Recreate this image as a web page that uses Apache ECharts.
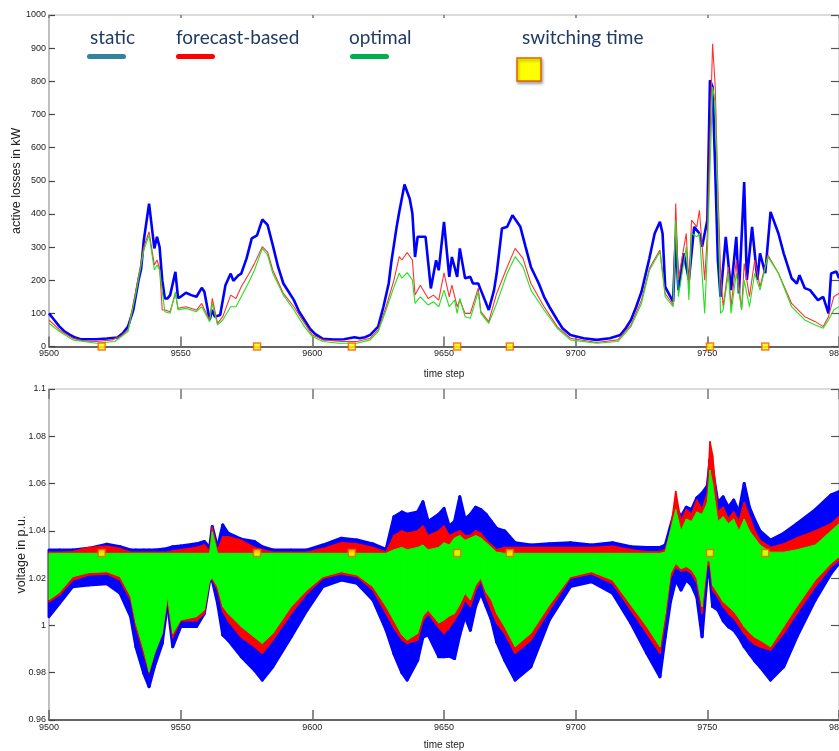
<!DOCTYPE html>
<html>
<head>
<meta charset="utf-8">
<script src="https://cdn.jsdelivr.net/npm/echarts@6/dist/echarts.min.js"></script>
<style>html,body{margin:0;padding:0;background:#fff;}#c{width:839px;height:751px;}</style>
</head>
<body>
<div id="c"></div>
<script>
// ---------- top panel: active losses (kW) ----------
const staticSteps = [9500,9502,9504,9506,9508,9510,9512,9518,9522,9526,9528,9530,9532,9534,9535,9536,9538,9540,9541,9542,9543,9544,9545,9546,9548,9549,9550,9552,9554,9556,9558,9559,9561,9562,9563,9565,9567,9569,9570,9572,9573,9575,9577,9579,9581,9583,9585,9587,9589,9591,9593,9595,9597,9599,9601,9604,9608,9612,9616,9618,9620,9622,9625,9627,9629,9630,9632,9633,9635,9637,9638,9639,9640,9643,9645,9647,9648,9650,9652,9653,9655,9656,9658,9660,9661,9663,9664,9667,9669,9670,9672,9674,9676,9679,9681,9683,9686,9688,9690,9693,9695,9698,9703,9708,9713,9717,9719,9721,9723,9725,9728,9730,9732,9733,9734,9735,9737,9738,9739,9741,9743,9745,9747,9748,9749,9750,9751,9752,9753,9754,9755,9757,9759,9761,9762,9764,9765,9767,9769,9770,9772,9774,9777,9779,9782,9784,9785,9787,9789,9792,9794,9796,9797,9799,9800];
const staticLoss = [100,80,60,45,35,27,22,22,24,27,40,60,110,200,235,320,431,296,331,300,200,145,145,155,225,146,150,162,155,150,177,165,80,110,90,95,185,220,198,215,220,265,326,335,383,367,305,240,190,165,140,105,80,55,38,23,21,22,28,25,28,35,60,120,190,255,360,406,489,445,401,270,331,331,175,260,230,376,210,270,210,296,206,210,190,190,170,110,170,220,356,361,396,361,300,240,190,150,120,80,55,35,25,20,25,35,55,80,120,165,266,341,376,341,180,165,135,331,170,281,201,361,341,301,341,381,803,783,532,261,150,331,170,331,160,496,201,361,201,281,221,406,341,281,206,190,215,176,170,140,150,100,220,226,206];

const forecastSteps = [9500,9504,9509,9513,9518,9524,9527,9530,9533,9536,9538,9540,9541,9542,9543,9544,9546,9548,9549,9552,9556,9558,9560,9561,9562,9564,9566,9569,9571,9573,9576,9578,9581,9583,9585,9589,9593,9597,9600,9604,9611,9617,9622,9625,9628,9631,9633,9634,9636,9638,9639,9641,9644,9646,9648,9650,9652,9653,9655,9656,9658,9660,9663,9664,9667,9670,9674,9677,9680,9683,9688,9693,9698,9708,9716,9721,9725,9728,9732,9734,9737,9738,9739,9742,9743,9744,9746,9747,9749,9750,9752,9753,9754,9755,9756,9758,9759,9761,9763,9764,9766,9768,9770,9773,9777,9782,9787,9791,9794,9796,9798,9800];
const forecastLoss = [80,50,25,17,15,20,30,50,170,300,346,246,261,236,110,110,105,160,115,120,110,130,95,80,145,70,90,155,145,180,220,250,301,285,230,160,120,70,35,20,15,15,25,50,120,200,271,261,283,261,155,185,145,155,140,222,150,185,120,140,100,100,176,105,75,160,240,296,266,190,120,60,25,12,20,65,140,236,291,160,125,431,201,341,180,381,361,411,200,341,913,783,482,230,120,240,120,261,110,250,150,261,180,276,221,130,90,75,60,90,150,160];

const optimalSteps = [9500,9504,9509,9518,9525,9530,9533,9536,9538,9540,9541,9542,9544,9546,9548,9549,9552,9556,9558,9561,9562,9564,9566,9569,9571,9573,9576,9578,9581,9583,9585,9589,9593,9597,9600,9604,9610,9617,9622,9625,9628,9631,9633,9634,9636,9638,9639,9641,9644,9646,9648,9650,9652,9654,9655,9656,9658,9660,9663,9664,9667,9670,9674,9677,9680,9683,9688,9693,9698,9708,9716,9721,9725,9728,9732,9734,9737,9738,9739,9742,9743,9744,9746,9747,9749,9750,9752,9753,9754,9755,9756,9758,9759,9761,9763,9764,9766,9768,9770,9773,9777,9782,9787,9791,9794,9796,9798,9800];
const optimalLoss = [70,45,20,10,15,45,160,290,336,231,246,231,105,100,165,110,115,105,120,75,130,65,80,120,120,150,196,230,296,276,221,155,110,60,30,15,10,10,20,45,110,180,221,206,223,201,130,150,125,135,120,170,120,140,100,145,90,85,165,100,70,130,221,271,240,170,110,55,20,10,15,60,130,230,286,150,120,381,150,301,140,341,331,341,100,281,783,733,432,100,110,221,100,221,110,200,120,221,170,271,221,120,80,65,55,80,110,120];

// switching times (time steps)
const switchSteps = [9520,9579,9615,9655,9675,9751,9772];
const switchVoltage = 1.0306;

// ---------- bottom panel: voltage band envelopes (p.u.) ----------
const voltSteps = [9500,9504,9509,9515,9522,9527,9531,9533,9536,9538,9540,9543,9545,9547,9550,9556,9559,9561,9562,9564,9566,9568,9573,9578,9581,9585,9592,9598,9604,9611,9617,9623,9628,9631,9634,9636,9640,9642,9644,9648,9650,9652,9654,9656,9658,9660,9662,9664,9666,9668,9670,9673,9677,9683,9690,9698,9706,9714,9721,9727,9732,9734,9736,9738,9740,9742,9744,9746,9748,9750,9751,9752,9754,9756,9758,9760,9762,9764,9766,9768,9770,9774,9779,9784,9791,9797,9800];
const staticVMax = [1.0319,1.0319,1.0319,1.0326,1.0343,1.0333,1.0319,1.0319,1.0319,1.0319,1.0319,1.0322,1.0326,1.0333,1.0336,1.0345,1.0355,1.0330,1.0418,1.0330,1.0425,1.0390,1.0365,1.0355,1.0333,1.0319,1.0319,1.0319,1.0340,1.0369,1.0361,1.0345,1.0322,1.0460,1.0480,1.0470,1.0480,1.0523,1.0440,1.0470,1.0495,1.0420,1.0440,1.0544,1.0450,1.0470,1.0500,1.0490,1.0470,1.0440,1.0410,1.0400,1.0350,1.0340,1.0345,1.0350,1.0340,1.0350,1.0333,1.0330,1.0330,1.0340,1.0420,1.0500,1.0460,1.0500,1.0490,1.0540,1.0560,1.0590,1.0700,1.0660,1.0520,1.0544,1.0500,1.0530,1.0480,1.0600,1.0500,1.0446,1.0400,1.0361,1.0390,1.0430,1.0490,1.0552,1.0566];
const staticVMin = [1.0037,1.0094,1.0164,1.0171,1.0176,1.0136,1.0037,0.9910,0.9797,0.9741,0.9825,0.9924,1.0094,0.9910,0.9995,0.9995,1.0051,1.0190,1.0190,1.0094,0.9960,0.9938,0.9868,0.9811,0.9769,0.9825,0.9952,1.0065,1.0164,1.0192,1.0178,1.0108,0.9981,0.9880,0.9800,0.9769,0.9853,0.9950,0.9960,0.9868,0.9868,0.9870,0.9860,0.9960,1.0037,0.9980,1.0080,1.0136,1.0080,1.0023,0.9930,0.9854,0.9769,0.9825,1.0023,1.0164,1.0185,1.0136,1.0009,0.9882,0.9783,0.9950,1.0100,1.0192,1.0150,1.0192,1.0170,1.0120,0.9952,1.0220,1.0200,1.0080,1.0065,1.0020,0.9994,0.9980,0.9950,0.9910,0.9880,0.9850,0.9825,0.9769,0.9825,0.9952,1.0108,1.0220,1.0263];
const forecastVMax = [1.0310,1.0310,1.0312,1.0330,1.0335,1.0325,1.0310,1.0310,1.0310,1.0310,1.0310,1.0310,1.0310,1.0315,1.0320,1.0330,1.0340,1.0315,1.0415,1.0315,1.0375,1.0375,1.0360,1.0330,1.0320,1.0310,1.0310,1.0310,1.0325,1.0350,1.0345,1.0330,1.0310,1.0380,1.0400,1.0390,1.0400,1.0420,1.0380,1.0400,1.0420,1.0380,1.0390,1.0400,1.0380,1.0380,1.0400,1.0390,1.0360,1.0340,1.0320,1.0330,1.0330,1.0330,1.0330,1.0330,1.0330,1.0335,1.0320,1.0312,1.0312,1.0320,1.0400,1.0566,1.0440,1.0490,1.0470,1.0530,1.0490,1.0560,1.0777,1.0720,1.0480,1.0500,1.0450,1.0480,1.0440,1.0520,1.0460,1.0400,1.0360,1.0330,1.0345,1.0370,1.0400,1.0430,1.0460];
const forecastVMin = [1.0100,1.0130,1.0192,1.0213,1.0218,1.0192,1.0108,0.9995,0.9880,0.9800,0.9880,0.9966,1.0108,0.9950,1.0020,1.0020,1.0051,1.0190,1.0195,1.0150,1.0060,1.0020,0.9950,0.9910,0.9882,0.9938,1.0051,1.0136,1.0199,1.0218,1.0206,1.0150,1.0051,0.9990,0.9940,0.9924,0.9938,1.0020,1.0050,0.9990,0.9967,0.9990,1.0023,1.0060,1.0108,1.0080,1.0150,1.0190,1.0120,1.0065,1.0010,0.9967,0.9882,0.9938,1.0065,1.0200,1.0218,1.0178,1.0065,0.9967,0.9882,1.0023,1.0200,1.0249,1.0230,1.0235,1.0220,1.0180,1.0051,1.0260,1.0250,1.0150,1.0120,1.0080,1.0051,1.0030,1.0000,0.9967,0.9940,0.9920,0.9910,0.9896,0.9967,1.0051,1.0164,1.0249,1.0277];
const optimalVMax = [1.0305,1.0305,1.0305,1.0305,1.0305,1.0305,1.0305,1.0305,1.0305,1.0305,1.0305,1.0305,1.0305,1.0305,1.0305,1.0305,1.0305,1.0305,1.0396,1.0305,1.0305,1.0305,1.0305,1.0305,1.0305,1.0305,1.0305,1.0305,1.0305,1.0305,1.0305,1.0305,1.0305,1.0320,1.0330,1.0320,1.0330,1.0340,1.0320,1.0330,1.0350,1.0340,1.0370,1.0380,1.0360,1.0370,1.0380,1.0370,1.0350,1.0330,1.0310,1.0305,1.0305,1.0305,1.0305,1.0305,1.0305,1.0305,1.0305,1.0305,1.0305,1.0310,1.0400,1.0490,1.0400,1.0450,1.0440,1.0480,1.0470,1.0520,1.0657,1.0600,1.0440,1.0460,1.0430,1.0450,1.0400,1.0450,1.0400,1.0370,1.0340,1.0310,1.0310,1.0320,1.0340,1.0400,1.0430];
const optimalVMin = [1.0108,1.0140,1.0206,1.0223,1.0227,1.0206,1.0122,1.0010,0.9896,0.9805,0.9880,0.9966,1.0122,0.9966,1.0023,1.0037,1.0065,1.0190,1.0200,1.0164,1.0080,1.0050,0.9995,0.9950,0.9924,0.9966,1.0080,1.0150,1.0206,1.0227,1.0213,1.0164,1.0080,1.0020,0.9960,0.9938,0.9966,1.0040,1.0065,1.0010,1.0023,1.0040,1.0050,1.0090,1.0136,1.0108,1.0170,1.0200,1.0140,1.0108,1.0050,0.9995,0.9910,0.9967,1.0086,1.0206,1.0227,1.0192,1.0086,0.9995,0.9910,1.0050,1.0220,1.0263,1.0240,1.0249,1.0235,1.0200,1.0080,1.0277,1.0270,1.0170,1.0136,1.0100,1.0080,1.0060,1.0030,0.9995,0.9970,0.9950,0.9938,0.9910,0.9995,1.0080,1.0192,1.0263,1.0290];

// axis ranges
const stepMin = 9500, stepMax = 9800, stepInterval = 50;
const lossMin = 0, lossMax = 1000, lossInterval = 100;
const voltMin = 0.96, voltMax = 1.1, voltInterval = 0.02;

const legendNames = ['static', 'forecast-based', 'optimal'];
const legendSwatch = ['#31849B', '#FF0000', '#00B050'];
const legendTextX = [90, 176, 349];
const legendLineX = [87, 176, 350];

const chart = echarts.init(document.getElementById('c'), null, {renderer: 'canvas'});
const lblFont = {fontFamily: 'Liberation Sans', fontSize: 9, color: '#222'};
const plainNum = v => String(+(+v).toFixed(2));

function xMain(gridIndex, gap) {
  return {type: 'value', gridIndex, min: stepMin, max: stepMax, interval: stepInterval,
    name: 'time step', nameLocation: 'middle', nameGap: gap,
    nameTextStyle: {fontFamily: 'Liberation Sans', fontSize: 10, color: '#222'},
    axisLine: {onZero: false, lineStyle: {color: '#333', width: 1.5}},
    axisTick: {inside: true, length: 10, lineStyle: {color: '#666', width: 1.5}},
    axisLabel: Object.assign({margin: 3, formatter: plainNum}, lblFont),
    splitLine: {show: false}};
}
function xFrame(gridIndex, tickLen) {
  return {type: 'value', gridIndex, position: 'top', min: stepMin, max: stepMax, interval: stepInterval,
    axisLine: {onZero: false, lineStyle: {color: '#cfcfcf', width: 1.5}},
    axisTick: {inside: true, length: tickLen, lineStyle: {color: '#777', width: 1.5}},
    axisLabel: {show: false}, splitLine: {show: false}};
}
function yMain(gridIndex, min, max, interval, name, gap) {
  return {type: 'value', gridIndex, min, max, interval,
    name, nameLocation: 'middle', nameGap: gap, nameMoveOverlap: false,
    nameTextStyle: {fontFamily: 'Liberation Sans', fontSize: 12.5, color: '#222'},
    axisLine: {show: true, onZero: false, lineStyle: {color: '#aaa', width: 1.5}},
    axisTick: {show: true, inside: true, length: 6, lineStyle: {color: '#444', width: 1.2}},
    axisLabel: Object.assign({margin: 3, formatter: plainNum}, lblFont),
    splitLine: {show: false}};
}
function yFrame(gridIndex, min, max, interval) {
  return {type: 'value', gridIndex, position: 'right', min, max, interval,
    axisLine: {show: true, onZero: false, lineStyle: {color: '#cfcfcf', width: 1.5}},
    axisTick: {show: true, inside: true, length: 8, lineStyle: {color: '#555', width: 1.2}},
    axisLabel: {show: false}, splitLine: {show: false}};
}

function lossLine(name, steps, vals, color, width, z) {
  return {type: 'line', name, xAxisIndex: 0, yAxisIndex: 0, data: steps.map((s, i) => [s, vals[i]]),
    symbol: 'none', lineStyle: {color, width}, z, animation: false};
}
// voltage band: each segment between consecutive steps is a filled quad from min to max
function band(name, lo, hi, color, edge, z) {
  const n = voltSteps.length;
  return {type: 'custom', name, xAxisIndex: 2, yAxisIndex: 2, z, animation: false,
    data: voltSteps.map((s, i) => [s, lo[i], hi[i]]),
    renderItem: function (params, api) {
      const i = params.dataIndex;
      if (i >= n - 1) return null;
      const a = api.coord([voltSteps[i], lo[i]]);
      const b = api.coord([voltSteps[i + 1], lo[i + 1]]);
      const c = api.coord([voltSteps[i + 1], hi[i + 1]]);
      const d = api.coord([voltSteps[i], hi[i]]);
      return {type: 'polygon', shape: {points: [a, b, c, d]},
        style: {fill: color, stroke: color, lineWidth: edge, lineJoin: 'round'}};
    }};
}

const markerStyle = {color: '#FFFF00', borderColor: '#FF5A00', borderWidth: 1.5};

const graphic = [];
legendNames.forEach((n, i) => {
  graphic.push({type: 'text', left: legendTextX[i], top: 28,
    style: {text: n, font: '19px Lato', fill: '#1F3B64'}});
  graphic.push({type: 'rect', shape: {x: legendLineX[i], y: 54, width: 39, height: 5, r: 2.5},
    style: {fill: legendSwatch[i]}});
});
graphic.push({type: 'text', left: 522, top: 28, style: {text: 'switching time', font: '19px Lato', fill: '#1F3B64'}});
graphic.push({type: 'rect', shape: {x: 517, y: 58, width: 24, height: 23},
  style: {fill: '#FFFF00', stroke: '#E8600A', lineWidth: 1.5, shadowBlur: 3, shadowColor: 'rgba(0,0,0,0.35)', shadowOffsetX: 1, shadowOffsetY: 2}});

const option = {
  backgroundColor: '#fff',
  animation: false,
  grid: [
    {left: 49, top: 15, width: 790, height: 331.5, containLabel: false, outerBoundsMode: 'none'},
    {left: 49, top: 389, width: 790, height: 331, containLabel: false, outerBoundsMode: 'none'}
  ],
  xAxis: [xMain(0, 23), xFrame(0, 3), xMain(1, 20), xFrame(1, 10)],
  yAxis: [
    yMain(0, lossMin, lossMax, lossInterval, 'active losses in kW', 26),
    yFrame(0, lossMin, lossMax, lossInterval),
    yMain(1, voltMin, voltMax, voltInterval, 'voltage in p.u.', 21),
    yFrame(1, voltMin, voltMax, voltInterval)
  ],
  series: [
    lossLine('static', staticSteps, staticLoss, '#0000FF', 2.6, 3),
    lossLine('forecast-based', forecastSteps, forecastLoss, '#FF3030', 1.1, 4),
    lossLine('optimal', optimalSteps, optimalLoss, '#22E022', 1.1, 5),
    {type: 'scatter', xAxisIndex: 0, yAxisIndex: 0, data: switchSteps.map(s => [s, 0]),
      symbol: 'rect', symbolSize: 7, itemStyle: markerStyle, clip: false, z: 10},
    band('static', staticVMin, staticVMax, '#0000FF', 3, 3),
    band('forecast-based', forecastVMin, forecastVMax, '#FF0000', 1.5, 4),
    band('optimal', optimalVMin, optimalVMax, '#00FF00', 1, 5),
    {type: 'scatter', xAxisIndex: 2, yAxisIndex: 2, data: switchSteps.map(s => [s, switchVoltage]),
      symbol: 'rect', symbolSize: 7, itemStyle: markerStyle, clip: false, z: 10}
  ],
  graphic
};
chart.setOption(option);
</script>
</body>
</html>
